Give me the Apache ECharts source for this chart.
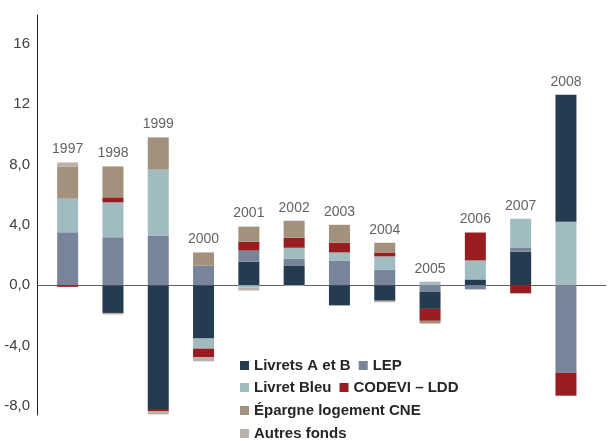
<!DOCTYPE html>
<html>
<head>
<meta charset="utf-8">
<title>Épargne réglementée – flux annuels</title>
<script src="https://cdn.jsdelivr.net/npm/echarts@6/dist/echarts.min.js"></script>
<style>
  html, body { margin: 0; padding: 0; background: #fff; }
  #chart { width: 613px; height: 441px; }
</style>
</head>
<body>
<div id="chart"></div>
<script>
// Annual net flows by savings product
const years = ['1997', '1998', '1999', '2000', '2001', '2002', '2003', '2004', '2005', '2006', '2007', '2008'];
const livretsAB  = [0, -1.84, -8.2, -3.54, 1.56, 1.31, -1.34, -1.03, -1.13, 0.38, 2.22, 8.41];
const lep        = [3.5, 3.17, 3.3, 1.29, 0.73, 0.46, 1.64, 1.03, -0.44, -0.28, 0.28, -5.8];
const livretBleu = [2.23, 2.32, 4.35, -0.66, -0.17, 0.71, 0.53, 0.88, 0.23, 1.26, 1.9, 4.2];
const codevi     = [-0.11, 0.33, -0.16, -0.58, 0.6, 0.66, 0.64, 0.26, -0.79, 1.85, -0.54, -1.52];
const cne        = [2.14, 2.05, 2.14, 0.88, 0.99, 1.13, 1.19, 0.64, -0.18, 0, 0, 0];
const autres     = [0.26, -0.1, -0.2, -0.26, -0.18, -0.06, 0, -0.1, 0, 0, 0, 0];

const yTickValues = [-8, -4, 0, 4, 8, 12, 16];
const yTickLabels = ['-8,0', '-4,0', '0,0', '4,0', '8,0', '12', '16'];

// Segments that sit right against the zero line, below Livrets A et B in the stack
const leadSegments = [
  { name: 'Livret Bleu', year: '2008' },
  { name: 'LEP', year: '2005' }
];

const products = [
  { name: 'Livrets A et B', values: livretsAB, color: '#253b50' },
  { name: 'LEP', values: lep, color: '#78849a' },
  { name: 'Livret Bleu', values: livretBleu, color: '#a0bcc0' },
  { name: 'CODEVI – LDD', values: codevi, color: '#991c20' },
  { name: 'Épargne logement CNE', values: cne, color: '#a2917d' },
  { name: 'Autres fonds', values: autres, color: '#bab2aa' }
];

function barSeries(name, data, color) {
  return {
    type: 'bar',
    name: name,
    xAxisIndex: 0,
    yAxisIndex: 0,
    stack: 'flux',
    barWidth: 21,
    data: data,
    itemStyle: { color: color },
    emphasis: { disabled: true }
  };
}

const series = [];
// lead segments first so they stack directly on the zero line
leadSegments.forEach(seg => {
  const p = products.find(q => q.name === seg.name);
  const data = years.map((y, i) => (y === seg.year ? p.values[i] : null));
  series.push(barSeries(p.name, data, p.color));
});
products.forEach(p => {
  const data = years.map((y, i) =>
    leadSegments.some(s => s.name === p.name && s.year === y) ? null : p.values[i]);
  series.push(barSeries(p.name, data, p.color));
});

// year label above the positive part of each stack
const stackTops = years.map((y, i) =>
  products.reduce((s, p) => s + Math.max(0, p.values[i]), 0));
series.push({
  type: 'scatter',
  xAxisIndex: 0,
  yAxisIndex: 0,
  symbolSize: 0,
  silent: true,
  data: stackTops,
  label: {
    show: true,
    position: 'top',
    distance: 6,
    formatter: p => years[p.dataIndex],
    fontFamily: 'Liberation Sans, Arial, sans-serif',
    fontSize: 14,
    color: '#3a3a3a'
  }
});

const yMin = -8.6, yMax = 17.9;

const legendText = {
  fontFamily: 'Liberation Sans, Arial, sans-serif',
  fontSize: 15,
  fontWeight: 'bold',
  color: '#262626'
};
function legendRow(names, top) {
  return {
    data: names,
    left: 240,
    top: top,
    orient: 'horizontal',
    icon: 'rect',
    itemWidth: 9,
    itemHeight: 9,
    itemGap: 8,
    selectedMode: false,
    padding: 0,
    textStyle: legendText
  };
}

const option = {
  animation: false,
  backgroundColor: '#ffffff',
  grid: [
    { left: 45, top: 15, width: 543.6, height: 400 },
    { left: 37, top: 15, width: 569, height: 400 }
  ],
  xAxis: [
    {
      type: 'category', gridIndex: 0, data: years,
      axisLine: { show: false }, axisTick: { show: false }, axisLabel: { show: false }
    },
    {
      type: 'value', gridIndex: 1, min: 0, max: 1,
      axisLine: { show: true, onZero: true, lineStyle: { color: '#5f5f5f', width: 1 } },
      axisTick: { show: false }, axisLabel: { show: false }, splitLine: { show: false }
    }
  ],
  yAxis: [
    {
      type: 'value', gridIndex: 0, min: yMin, max: yMax,
      axisLine: { show: false }, axisTick: { show: false },
      axisLabel: { show: false }, splitLine: { show: false }
    },
    {
      type: 'value', gridIndex: 1, min: yMin, max: yMax,
      axisLine: { show: true, onZero: false, lineStyle: { color: '#222', width: 1 } },
      axisTick: { show: false },
      splitLine: { show: false },
      axisLabel: {
        customValues: yTickValues,
        formatter: v => yTickLabels[yTickValues.indexOf(v)],
        margin: 7,
        padding: [5, 0, 0, 0],
        fontFamily: 'Liberation Sans, Arial, sans-serif',
        fontSize: 15,
        color: '#404040'
      }
    }
  ],
  legend: [
    legendRow(['Livrets A et B', 'LEP'], 358),
    legendRow(['Livret Bleu', 'CODEVI – LDD'], 380),
    legendRow(['Épargne logement CNE'], 403),
    legendRow(['Autres fonds'], 426)
  ],
  series: series
};

const chart = echarts.init(document.getElementById('chart'), null, { renderer: 'canvas' });
chart.setOption(option);
</script>
</body>
</html>
